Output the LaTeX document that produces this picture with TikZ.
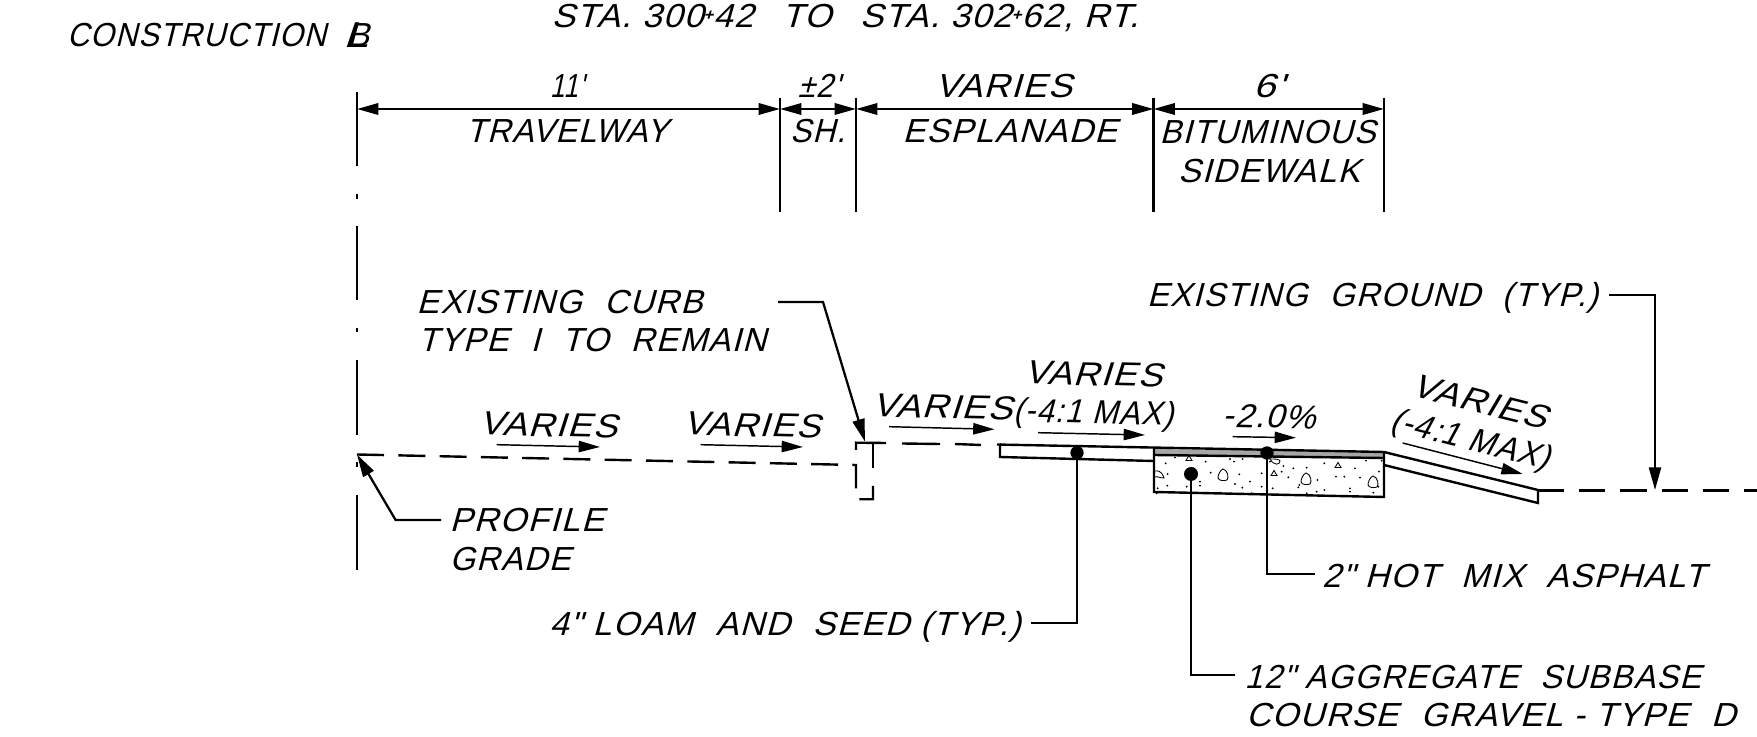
\documentclass[tikz,border=0pt]{standalone}
\usepackage{fontspec}
\usepackage{graphicx}
\setmainfont{Liberation Sans}
\newfontfamily\cadfont{Liberation Sans}[FakeSlant=0.27,LetterSpace=4]
\usetikzlibrary{arrows.meta}
\newcommand{\fitw}[2]{\resizebox{#1\dimexpr0.75pt\relax}{\height}{\cadfont\fontsize{25}{25}\selectfont #2}}
\newcommand{\sta}{\raisebox{.45ex}{\fontsize{12}{12}\selectfont\bfseries +}}
\tikzset{
  lbl/.style={anchor=base west,inner sep=0pt,outer sep=0pt},
  ln/.style={line width=1.8pt},
  dimline/.style={line width=1.8pt,{Triangle[length=16pt,width=8.5pt]}-{Triangle[length=16pt,width=8.5pt]}},
  extline/.style={line width=1.7pt},
  cline/.style={line width=1.8pt},
  leader/.style={line width=1.7pt,-{Triangle[length=17pt,width=9pt]}},
  plain/.style={line width=1.7pt},
  slope/.style={line width=1.1pt,-{Triangle[length=16pt,width=8.5pt]}},
  dot/.style={circle,fill=black,inner sep=0pt,minimum size=10pt},
  stone/.style={line width=.65pt},
  dashA/.style={line width=1.8pt,dash pattern=on 20.25pt off 10.72pt},
  dashB/.style={line width=1.8pt,dash pattern=on 19.6pt off 11.3pt},
}
\begin{document}
\begin{tikzpicture}[x=0.75pt,y=-0.75pt]
\useasboundingbox (0,0) rectangle (1757,737);
% centreline
\foreach \a/\b in {92/166,194/199,226/300,328/332,360/435,462/467,495/570}
  \draw[cline] (357,\a) -- (357,\b);
% extension lines
\foreach \n/\x in {a/780,b/856,c/1153.5,d/1384}{
  \coordinate (top\n) at (\x,98); \coordinate (bot\n) at (\x,212);
  \draw[extline] (top\n) -- (bot\n);
}
\coordinate (dimO) at (357,109);
\coordinate (dimA) at (780,109);
\coordinate (dimB) at (856,109);
\coordinate (dimC) at (1153.5,109);
\coordinate (dimD) at (1384,109);
\draw[dimline] (dimO) -- (dimA);
\draw[dimline] (dimA) -- (dimB);
\draw[dimline] (dimB) -- (dimC);
\draw[dimline] (dimC) -- (dimD);
% profile + curb
\coordinate (pg) at (357,454.5);
\draw[dashA] (pg) -- (856,465) -- (856,499.3) -- (873,499.3) -- (873,485);
\draw[ln] (856,450) -- (856,442.7) -- (886,443);
\draw[ln] (873,442.7) -- (873,468);
\draw[ln] (902,443.5) -- (940,444);
\draw[ln] (955,444) -- (981,445);
% asphalt and gravel
\fill[black!35] (1154,449) -- (1384,452) -- (1384,458) -- (1154,455) -- cycle;
\draw[ln] (997,444.5) -- (1000,444.6) -- (1000,457) -- (1154,461);
\draw[ln] (1000,444.6) -- (1384,452);
\draw[ln] (1154,449) -- (1154,492) -- (1384,497) -- (1384,452);
\draw[ln] (1154,455) -- (1384,458);
% right slope
\draw[ln] (1384,452) -- (1538,490) -- (1538,503) -- (1384,465);
\draw[dashB] (1538,490.7) -- (1757,490.7);
% gravel dots
\foreach \p/\q in {557/370,585/352,563/402,562/437,533/445,660/425,660/437,692/398,677/365,750/357,762/365,788/357,778/403,765/432,787/443,810/425,845/400,845/440,878/445,910/378,925/412,940/385,958/435,955/442,980/383,1012/420,1033/370,1068/410,1093/410,1125/385,1158/362,1197/395,1205/362,1140/413,1110/445,1110/455,1033/450,1010/455,980/460,722/458,815/460,530/460,1195/440,620/440,640/385,870/365,905/395,1180/458}
  \fill ({980+\p/3},{340+\q/3}) circle (0.8pt);
% stones
\foreach \sx/\sy in {1223/475,1306/479,1373/482}
  \draw[stone,shift={(\sx,\sy)}] (0,-6) .. controls (5,-5) and (6,3) .. (4,5) .. controls (1,6) and (-4,6) .. (-5,3) .. controls (-5,0) and (-3,-5) .. (0,-6) -- cycle;
\draw[stone] (1155,471) .. controls (1162,470) and (1163,476) .. (1164,478) .. controls (1160,478) and (1157,476) .. (1155,477);
\draw[stone] (1270,459) .. controls (1274,466) and (1280,465) .. (1280,461) .. controls (1279,459) and (1275,459) .. (1271,459);
\foreach \tx/\ty in {1189/458,1274/473,1338/465}
  \draw[stone,shift={(\tx,\ty)}] (-3,2.5) -- (0,-2.5) -- (3,2.5) -- cycle;
% slope arrows
\coordinate (s1a) at (496.6,444.7); \coordinate (s1b) at (600,447);
\coordinate (s2a) at (700.7,444.7); \coordinate (s2b) at (803,447);
\coordinate (s3a) at (889,426.7);   \coordinate (s3b) at (994.5,429.3);
\coordinate (s4a) at (1038,432.7);  \coordinate (s4b) at (1145,435);
\coordinate (s5a) at (1232.7,436.7);\coordinate (s5b) at (1296,437.7);
\coordinate (s6a) at (1402.7,443);  \coordinate (s6b) at (1522.7,474);
\draw[slope] (s1a) -- (s1b);
\draw[slope] (s2a) -- (s2b);
\draw[slope] (s3a) -- (s3b);
\draw[slope] (s4a) -- (s4b);
\draw[slope] (s5a) -- (s5b);
\draw[slope] (s6a) -- (s6b);
% dots and leaders
\node[dot] (loam) at (1077,452.7) {};
\node[dot,minimum size=10.5pt] (agg) at (1191,474) {};
\node[dot] (hma) at (1267,453) {};
\coordinate (lLoam) at (1031,623);
\coordinate (lAgg) at (1235,675);
\coordinate (lHma) at (1315,574);
\draw[plain] (loam.center) |- (lLoam);
\draw[plain] (agg.center) |- (lAgg);
\draw[plain] (hma.center) |- (lHma);
% arrow leaders
\coordinate (gndS) at (1609,295);
\coordinate (gndK) at (1655,295);
\coordinate (gndT) at (1655,490);
\draw[leader] (gndS) -- (gndK) -- (gndT);
\coordinate (curbS) at (778,302);
\coordinate (curbK) at (823,302);
\coordinate (curbT) at (865,441.7);
\draw[leader] (curbS) -- (curbK) -- (curbT);
\coordinate (profS) at (441,520);
\coordinate (profK) at (395.6,520);
\draw[leader] (profS) -- (profK) -- (pg);
% labels
\node[lbl] (tCons) at (67,47) {\fitw{259}{CONSTRUCTION}};
\node[lbl] (tCL) at (343,48) {\fitw{25}{\rlap{\hspace{.12em}\raisebox{1pt}{B}}\scalebox{1.35}[1.08]{L}}};
\node[lbl] (tSta) at (551.6,28) {\fitw{587}{STA. 300\sta 42\hspace{.5em} TO\hspace{.5em} STA. 302\sta 62, RT.}};
\node[lbl] (t11) at (550,97.7) {\fitw{34}{11'}};
\node[lbl] (tTrav) at (466,142.7) {\fitw{202}{TRAVELWAY}};
\node[lbl] (t2) at (798,98) {\fitw{42}{±2'}};
\node[lbl] (tSh) at (790,143) {\fitw{55}{SH.}};
\node[lbl] (tVar) at (935,98) {\fitw{137}{VARIES}};
\node[lbl] (tEsp) at (902.5,143) {\fitw{214.5}{ESPLANADE}};
\node[lbl] (t6) at (1253,98) {\fitw{31}{6'}};
\node[lbl] (tBit) at (1159.6,144) {\fitw{216}{BITUMINOUS}};
\node[lbl] (tSide) at (1178,183) {\fitw{182}{SIDEWALK}};
\node[lbl] (tCurb) at (416.7,314) {\fitw{286}{EXISTING\hspace{.35em} CURB}};
\node[lbl] (tType) at (418,352) {\fitw{348}{TYPE\hspace{.35em} I\hspace{.35em} TO\hspace{.35em} REMAIN}};
\node[lbl,rotate=-1.3] (tV1) at (479,435) {\fitw{138}{VARIES}};
\node[lbl,rotate=-1.3] (tV2) at (683,435) {\fitw{137}{VARIES}};
\node[lbl,rotate=-1.3] (tV3) at (872,416.7) {\fitw{140}{VARIES}};
\node[lbl,rotate=-1.3] (tMax1) at (1013,421.7) {\fitw{160}{(-4:1 MAX)}};
\node[lbl,rotate=-1.3] (tV4) at (1024,384) {\fitw{138}{VARIES}};
\node[lbl,rotate=-1.3] (tPct) at (1222,427) {\fitw{93}{-2.0\%}};
\node[lbl,rotate=-14] (tV5) at (1410,396) {\fitw{138}{VARIES}};
\node[lbl,rotate=-14] (tMax2) at (1389,430) {\fitw{163}{(-4:1 MAX)}};
\node[lbl] (tGnd) at (1147,306.7) {\fitw{451}{EXISTING\hspace{.35em} GROUND\hspace{.35em} (TYP.)}};
\node[lbl] (tProf) at (449.5,532) {\fitw{154.5}{PROFILE}};
\node[lbl] (tGrade) at (449.5,570.5) {\fitw{121}{GRADE}};
\node[lbl] (tLoam) at (549.6,636) {\fitw{471}{4" LOAM\hspace{.35em} AND\hspace{.35em} SEED (TYP.)}};
\node[lbl] (tHma) at (1322,587.7) {\fitw{383}{2" HOT\hspace{.35em} MIX\hspace{.35em} ASPHALT}};
\node[lbl] (tAgg) at (1244.5,688) {\fitw{456.5}{12" AGGREGATE\hspace{.35em} SUBBASE}};
\node[lbl] (tCourse) at (1246,726.7) {\fitw{489.5}{COURSE\hspace{.35em} GRAVEL - TYPE\hspace{.35em} D}};
\end{tikzpicture}
\end{document}
